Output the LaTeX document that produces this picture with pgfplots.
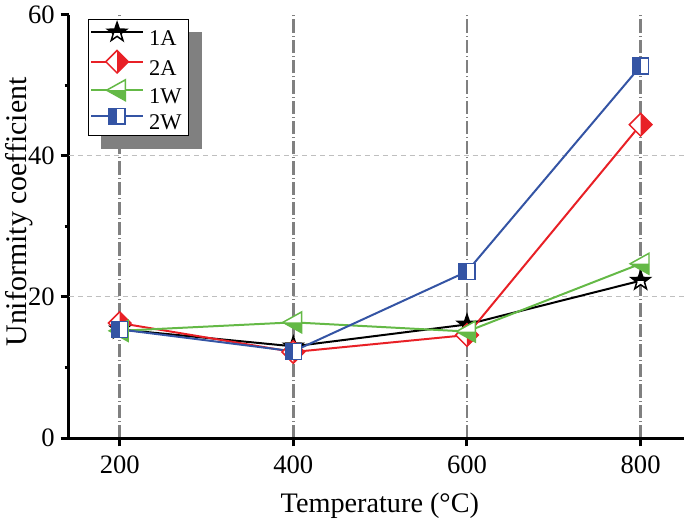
\documentclass[border=0pt]{standalone}
\usepackage{fontspec}
\setmainfont{Liberation Serif}
\usepackage{pgfplots}
\pgfplotsset{compat=1.18}
\pgfdeclarelayer{shadow}
\pgfsetlayers{shadow,main}
\definecolor{cA}{RGB}{0,0,0}
\definecolor{cB}{RGB}{232,32,38}
\definecolor{cC}{RGB}{100,185,70}
\definecolor{cD}{RGB}{52,84,164}

\newcommand\starpath{%
  \pgfpathmoveto{\pgfpointpolar{90}{\pgfplotmarksize}}%
  \pgfpathlineto{\pgfpointpolar{126}{0.4*\pgfplotmarksize}}%
  \pgfpathlineto{\pgfpointpolar{162}{\pgfplotmarksize}}%
  \pgfpathlineto{\pgfpointpolar{198}{0.4*\pgfplotmarksize}}%
  \pgfpathlineto{\pgfpointpolar{234}{\pgfplotmarksize}}%
  \pgfpathlineto{\pgfpointpolar{270}{0.4*\pgfplotmarksize}}%
  \pgfpathlineto{\pgfpointpolar{306}{\pgfplotmarksize}}%
  \pgfpathlineto{\pgfpointpolar{342}{0.4*\pgfplotmarksize}}%
  \pgfpathlineto{\pgfpointpolar{18}{\pgfplotmarksize}}%
  \pgfpathlineto{\pgfpointpolar{54}{0.4*\pgfplotmarksize}}%
  \pgfpathclose}
\pgfdeclareplotmark{hstar}{%
  \pgfscope\pgfsetfillcolor{white}\starpath\pgfusepath{fill}\endpgfscope
  \pgfscope
  \pgfpathrectangle{\pgfpoint{-\pgfplotmarksize}{0pt}}{\pgfpoint{2\pgfplotmarksize}{\pgfplotmarksize}}\pgfusepath{clip}%
  \pgfsetfillcolor{cA}\starpath\pgfusepath{fill}\endpgfscope
  \starpath\pgfusepath{stroke}}
\newcommand\diapath{%
  \pgfpathmoveto{\pgfpoint{0pt}{\pgfplotmarksize}}%
  \pgfpathlineto{\pgfpoint{\pgfplotmarksize}{0pt}}%
  \pgfpathlineto{\pgfpoint{0pt}{-\pgfplotmarksize}}%
  \pgfpathlineto{\pgfpoint{-\pgfplotmarksize}{0pt}}%
  \pgfpathclose}
\pgfdeclareplotmark{hdia}{%
  \pgfscope\pgfsetfillcolor{white}\diapath\pgfusepath{fill}\endpgfscope
  \pgfscope\pgfsetfillcolor{cB}%
  \pgfpathmoveto{\pgfpoint{0pt}{\pgfplotmarksize}}%
  \pgfpathlineto{\pgfpoint{\pgfplotmarksize}{0pt}}%
  \pgfpathlineto{\pgfpoint{0pt}{-\pgfplotmarksize}}%
  \pgfpathclose\pgfusepath{fill}\endpgfscope
  \diapath\pgfusepath{stroke}}
\newcommand\tripath{%
  \pgfpathmoveto{\pgfpoint{-\pgfplotmarksize}{0pt}}%
  \pgfpathlineto{\pgfpoint{0.8\pgfplotmarksize}{\pgfplotmarksize}}%
  \pgfpathlineto{\pgfpoint{0.8\pgfplotmarksize}{-\pgfplotmarksize}}%
  \pgfpathclose}
\pgfdeclareplotmark{htri}{%
  \pgfscope\pgfsetfillcolor{white}\tripath\pgfusepath{fill}\endpgfscope
  \pgfscope\pgfsetfillcolor{cC}%
  \pgfpathmoveto{\pgfpoint{-\pgfplotmarksize}{0pt}}%
  \pgfpathlineto{\pgfpoint{0.8\pgfplotmarksize}{0pt}}%
  \pgfpathlineto{\pgfpoint{0.8\pgfplotmarksize}{-\pgfplotmarksize}}%
  \pgfpathclose\pgfusepath{fill}\endpgfscope
  \tripath\pgfusepath{stroke}}
\pgfdeclareplotmark{hsq}{%
  \pgfscope\pgfsetfillcolor{white}%
  \pgfpathrectangle{\pgfpoint{-\pgfplotmarksize}{-\pgfplotmarksize}}{\pgfpoint{2\pgfplotmarksize}{2\pgfplotmarksize}}\pgfusepath{fill}\endpgfscope
  \pgfscope\pgfsetfillcolor{cD}%
  \pgfpathrectangle{\pgfpoint{-\pgfplotmarksize}{-\pgfplotmarksize}}{\pgfpoint{\pgfplotmarksize}{2\pgfplotmarksize}}\pgfusepath{fill}\endpgfscope
  \pgfpathrectangle{\pgfpoint{-\pgfplotmarksize}{-\pgfplotmarksize}}{\pgfpoint{2\pgfplotmarksize}{2\pgfplotmarksize}}\pgfusepath{stroke}}

\begin{document}
\begin{tikzpicture}
\begin{axis}[
  scale only axis,
  width=370pt, height=255pt,
  xmin=141.4, xmax=849.4,
  ymin=0, ymax=60,
  axis x line*=bottom, axis y line*=left,
  axis line style={line width=1.8pt},
  xtick={200,400,600,800},
  ytick={0,20,40,60},
  minor ytick={10,30,50},
  tick align=outside,
  major tick length=5pt, minor tick length=2.5pt,
  every tick/.style={black, line width=1.8pt},
  every tick label/.append style={font=\fontsize{16}{19}\selectfont},
  xticklabel style={yshift=-2pt},
  /pgf/number format/assume math mode=true,
  xmajorgrids,
  x grid style={gray, line width=1.5pt, dash pattern=on 8pt off 1.8pt on 0.6pt off 1.8pt},
  extra y ticks={20,40},
  extra y tick labels={},
  extra y tick style={grid=major, major tick length=0pt, major grid style={gray!50, line width=0.6pt, dash pattern=on 3pt off 2.4pt}},
  xlabel={Temperature (°C)},
  ylabel={Uniformity coefficient},
  xlabel style={font=\fontsize{17}{20}\selectfont, at={(axis description cs:0.506,0)}, anchor=north, yshift=-29.5pt},
  ylabel style={font=\fontsize{18}{21}\selectfont, at={(axis description cs:0,0.534)}, anchor=south, yshift=18pt},
  legend style={name=leg, at={(axis description cs:0,1)}, anchor=north west, xshift=11.5pt, yshift=-3pt,
    draw=black, line width=0.6pt, fill=white, inner sep=1pt, row sep=0pt,
    nodes={inner xsep=3pt, inner ysep=0.8pt},
    font=\fontsize{13.5}{16}\selectfont},
  legend cell align=left,
  legend image code/.code={\draw[mark repeat=2,mark phase=2] plot coordinates {(0cm,4.4pt) (0.55cm,4.4pt) (1.1cm,4.4pt)};},
  every axis plot/.append style={line width=1.2pt},
]
\addplot[cA, mark=hstar, mark size=6pt, mark options={line width=0.9pt}] coordinates {(200,15.4) (400,13.0) (600,16.1) (800,22.3)};
\addlegendentry{1A}
\addplot[cB, mark=hdia, mark size=6.8pt, mark options={line width=0.9pt}] coordinates {(200,16.3) (400,12.2) (600,14.6) (800,44.4)};
\addlegendentry{2A}
\addplot[cC, mark=htri, mark size=6.3pt, mark options={line width=0.9pt}] coordinates {(200,15.2) (400,16.4) (600,15.1) (800,24.7)};
\addlegendentry{1W}
\addplot[cD, mark=hsq, mark size=4.8pt, mark options={line width=0.9pt}] coordinates {(200,15.4) (400,12.3) (600,23.6) (800,52.7)};
\addlegendentry{2W}
\end{axis}
\begin{pgfonlayer}{shadow}
\fill[gray] ([shift={(7.8pt,-7.8pt)}]leg.south west) rectangle ([shift={(7.8pt,-7.8pt)}]leg.north east);
\end{pgfonlayer}
\end{tikzpicture}
\end{document}
